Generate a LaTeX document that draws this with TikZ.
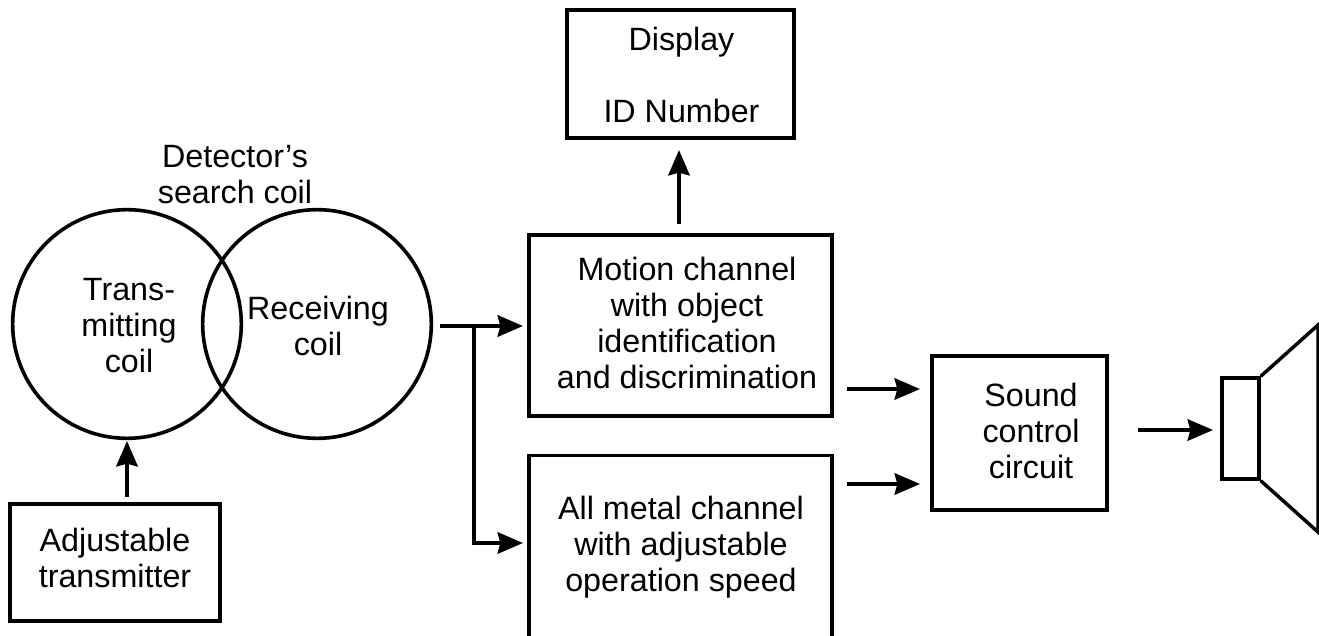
\documentclass[tikz,border=0pt]{standalone}
\usepackage{fontspec}
\setmainfont{Liberation Sans}
\usetikzlibrary{arrows.meta}
\tikzset{
 x=0.75pt,y=-0.75pt,
 box/.style={draw=black,line width=2.6pt,line join=miter,minimum size=0pt,inner sep=0pt},
 coil/.style={draw=black,line width=2.7pt,circle,minimum size=171.5pt,inner sep=0pt},
 wire/.style={draw=black,line width=3pt},
 arr/.style={wire,-{Stealth[length=19pt,width=16pt,inset=2pt]}},
 lab/.style={font=\fontsize{24.2pt}{27pt}\selectfont,align=center,text=black,inner sep=0pt,anchor=base}
}
\begin{document}
\begin{tikzpicture}
\useasboundingbox (0,0) rectangle (1319,635);
\node[box,minimum width=170.25pt,minimum height=96pt] (disp) at (680.5,74) {};
\node[box,minimum width=227.25pt,minimum height=135.75pt] (motion) at (680.5,325.5) {};
\node[box,minimum width=227.25pt,minimum height=140pt] (allm) at (680.5,549) {};
\node[box,minimum width=131.25pt,minimum height=115.5pt] (sound) at (1019.5,433) {};
\node[box,minimum width=157.5pt,minimum height=87.75pt] (adj) at (115,562.5) {};
\node[coil] (tc) at (127,324) {};
\node[coil] (rc) at (317,324) {};
\node[box,minimum width=27.75pt,minimum height=75.75pt] (spk) at (1240.5,428.5) {};
\draw[box] (spk.north east) -- (1318,325) -- (1318,532) -- (spk.south east);
\node[lab] (t1) at (681.5,50.5) {Display};
\node[lab] (t2) at (681.5,122.2) {ID Number};
\node[lab] (t3) at (235,203.5) {Detector’s\\search coil};
\node[lab] (t5) at (129,372.7) {Trans-\\mitting\\coil};
\node[lab] (t6) at (318,355) {Receiving\\coil};
\node[lab] (t7) at (687,388.8) {Motion channel\\with object\\identification\\and discrimination};
\node[lab] (t11) at (115,587.7) {Adjustable\\transmitter};
\node[lab] (t12) at (681,591.3) {All metal channel\\with adjustable\\operation speed};
\node[lab] (t13) at (1031,478.2) {Sound\\control\\circuit};
\coordinate (a1) at (440,326);
\coordinate (a2) at (474,326);
\coordinate (a3) at (474,543);
\coordinate (a4) at (523,326);
\coordinate (a5) at (523,543);
\coordinate (b1) at (679,224);
\coordinate (b2) at (679,150);
\coordinate (c1) at (127,497);
\coordinate (c2) at (127,441);
\coordinate (d1) at (847,389);
\coordinate (d2) at (920,389);
\coordinate (e1) at (847,484);
\coordinate (e2) at (920,484);
\coordinate (f1) at (1138,430);
\coordinate (f2) at (1213,430);
\draw[arr] (a1) -- (a4);
\draw[arr] (a2) -- (a3) -- (a5);
\draw[arr] (b1) -- (b2);
\draw[arr] (c1) -- (c2);
\draw[arr] (d1) -- (d2);
\draw[arr] (e1) -- (e2);
\draw[arr] (f1) -- (f2);
\end{tikzpicture}
\end{document}
